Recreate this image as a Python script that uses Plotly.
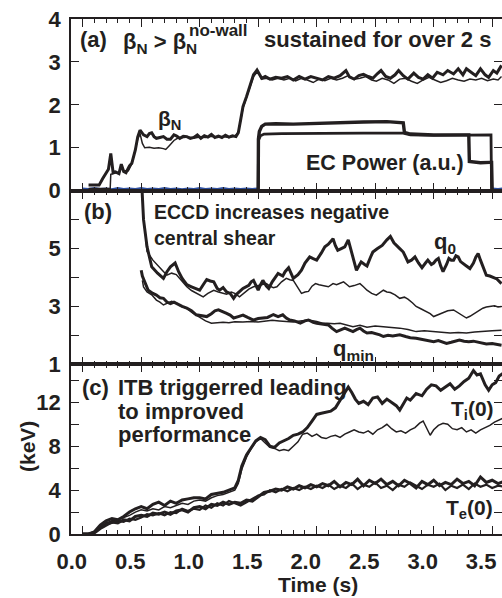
import plotly.graph_objects as go

# ------------------------------------------------------------------ data
# Panel (a): beta_N (two shots), EC power (two traces), blue baseline
BN_THICK = [(0.05,0.13),(0.10,0.13),(0.14,0.13),(0.17,0.28),(0.20,0.40),(0.22,0.50),(0.24,0.87),(0.26,0.42),
            (0.28,0.44),(0.31,0.40),(0.33,0.62),(0.35,0.45),(0.37,0.42),(0.40,0.58),(0.42,0.64),(0.45,0.95),
            (0.47,1.25),(0.49,1.41),(0.52,1.30),(0.55,1.26),(0.57,1.33),(0.59,1.35),(0.61,1.26),(0.63,1.22),
            (0.66,1.24),(0.69,1.26),(0.72,1.20),(0.75,1.20),(0.78,1.30),(0.80,1.28),(0.83,1.22),(0.86,1.27),
            (0.89,1.26),(0.92,1.22),(0.95,1.24),(0.98,1.30),(1.01,1.22),(1.04,1.28),(1.07,1.25),(1.10,1.31),
            (1.13,1.24),(1.16,1.27),(1.19,1.24),(1.22,1.29),(1.25,1.25),(1.28,1.28),(1.31,1.26),(1.33,1.35),
            (1.35,1.65),(1.37,1.96),(1.40,2.19),(1.43,2.45),(1.46,2.70),(1.49,2.81),(1.51,2.72),(1.53,2.62),
            (1.56,2.66),(1.60,2.60),(1.65,2.64),(1.70,2.62),(1.75,2.66),(1.80,2.58),(1.85,2.66),(1.90,2.60),
            (1.95,2.66),(2.00,2.62),(2.05,2.58),(2.10,2.66),(2.15,2.62),(2.20,2.68),(2.25,2.80),(2.28,2.65),
            (2.32,2.60),(2.36,2.68),(2.40,2.71),(2.44,2.66),(2.48,2.62),(2.52,2.73),(2.55,2.80),(2.59,2.66),
            (2.63,2.62),(2.67,2.70),(2.70,2.80),(2.74,2.68),(2.78,2.60),(2.83,2.74),(2.87,2.64),(2.91,2.60),
            (2.95,2.70),(2.99,2.62),(3.03,2.76),(3.08,2.70),(3.12,2.80),(3.17,2.72),(3.21,2.84),(3.25,2.70),
            (3.28,2.84),(3.32,2.76),(3.36,2.68),(3.40,2.84),(3.44,2.70),(3.47,2.64),(3.51,2.80),(3.54,2.74),
            (3.58,2.92)]
BN_THIN = [(0.05,0.05),(0.20,0.05),(0.235,0.05),(0.24,0.38),(0.26,0.40),(0.29,0.42),(0.31,0.40),(0.33,0.55),
           (0.36,0.44),(0.39,0.46),(0.42,0.62),(0.45,0.95),(0.47,1.20),(0.49,1.33),(0.51,1.10),(0.53,1.00),
           (0.57,1.01),(0.61,0.99),(0.65,1.00),(0.69,0.98),(0.71,0.96),(0.74,1.05),(0.78,1.17),(0.81,1.22),
           (0.85,1.24),(0.90,1.25),(0.95,1.22),(1.00,1.25),(1.05,1.24),(1.10,1.27),(1.15,1.24),(1.20,1.26),
           (1.25,1.24),(1.30,1.27),(1.33,1.36),(1.35,1.62),(1.37,1.92),(1.40,2.17),(1.43,2.42),(1.46,2.66),
           (1.49,2.76),(1.51,2.70),(1.53,2.60),(1.57,2.62),(1.62,2.58),(1.67,2.62),(1.72,2.58),(1.77,2.62),
           (1.82,2.56),(1.87,2.62),(1.92,2.58),(1.97,2.52),(2.02,2.60),(2.07,2.56),(2.12,2.62),(2.17,2.58),
           (2.22,2.62),(2.27,2.68),(2.32,2.60),(2.37,2.62),(2.42,2.66),(2.47,2.58),(2.51,2.55),(2.56,2.62),
           (2.61,2.58),(2.66,2.50),(2.71,2.60),(2.76,2.62),(2.81,2.55),(2.86,2.50),(2.91,2.58),(2.96,2.64),
           (3.01,2.58),(3.06,2.52),(3.11,2.56),(3.16,2.62),(3.21,2.58),(3.26,2.55),(3.31,2.60),(3.36,2.58),
           (3.41,2.62),(3.46,2.56),(3.51,2.60),(3.55,2.58),(3.58,2.66)]
EC_A = [(1.50,0.04),(1.502,1.20),(1.51,1.38),(1.53,1.50),(1.56,1.55),(1.65,1.56),(1.80,1.55),(2.00,1.57),
        (2.20,1.58),(2.40,1.60),(2.60,1.61),(2.70,1.60),(2.74,1.58),(2.75,1.36),(2.80,1.32),(3.00,1.30),
        (3.20,1.30),(3.30,1.30),(3.305,0.68),(3.40,0.65),(3.48,0.66),(3.495,0.66),(3.50,0.04)]
EC_B = [(1.50,0.04),(1.503,1.18),(1.52,1.28),(1.55,1.32),(1.70,1.33),(2.00,1.34),(2.40,1.34),(2.74,1.34),
        (2.80,1.30),(3.00,1.29),(3.30,1.30),(3.49,1.30),(3.495,0.04)]
BASE = [(0.00,0.05),(0.05,0.04),(0.10,0.06),(0.15,0.04),(0.20,0.05),(0.25,0.03),(0.30,0.06),(0.35,0.04),
        (0.40,0.05),(0.45,0.04),(0.50,0.06),(0.55,0.04),(0.60,0.05),(0.65,0.04),(0.70,0.06),(0.75,0.04),
        (0.80,0.05),(0.85,0.03),(0.90,0.05),(0.95,0.04),(1.00,0.06),(1.05,0.04),(1.10,0.05),(1.15,0.04),
        (1.20,0.06),(1.25,0.04),(1.30,0.05),(1.35,0.04),(1.40,0.05),(1.45,0.04),(1.50,0.05),(None,None),
        (3.50,0.05),(3.55,0.04),(3.60,0.05)]

# Panel (b): q0 and qmin (two shots)
Q0_THICK = [(0.50,7.6),(0.52,6.0),(0.55,5.06),(0.59,4.37),(0.64,4.15),(0.69,3.97),(0.72,4.2),(0.75,4.37),
            (0.79,4.5),(0.82,4.2),(0.85,3.97),(0.89,3.75),(0.93,3.68),(0.97,3.62),(1.00,3.56),(1.03,3.75),
            (1.06,3.93),(1.09,3.88),(1.12,3.85),(1.15,3.62),(1.17,3.56),(1.20,3.65),(1.23,3.5),(1.26,3.45),
            (1.29,3.28),(1.31,3.4),(1.34,3.51),(1.37,3.62),(1.42,3.73),(1.44,3.85),(1.46,3.9),(1.48,3.7),
            (1.50,3.56),(1.52,3.75),(1.54,3.9),(1.57,3.7),(1.59,3.62),(1.62,3.85),(1.65,4.0),(1.67,4.14),
            (1.71,4.05),(1.73,4.2),(1.76,4.34),(1.78,4.15),(1.80,3.97),(1.84,4.1),(1.87,4.25),(1.90,4.5),
            (1.94,4.71),(1.97,4.65),(2.00,4.6),(2.04,4.85),(2.07,5.06),(2.10,5.15),(2.14,5.34),(2.16,5.1),
            (2.18,4.94),(2.21,5.0),(2.24,5.06),(2.27,5.3),(2.30,4.83),(2.32,4.5),(2.34,4.25),(2.36,4.4),
            (2.38,4.54),(2.41,4.45),(2.43,4.4),(2.46,4.7),(2.48,4.88),(2.52,5.0),(2.56,5.11),(2.60,5.3),
            (2.63,5.42),(2.66,5.2),(2.68,5.11),(2.71,5.0),(2.74,4.88),(2.76,4.7),(2.78,4.54),(2.81,4.6),
            (2.84,4.71),(2.87,4.5),(2.90,4.34),(2.93,4.5),(2.95,4.6),(2.98,4.45),(3.00,4.5),(3.02,4.6),
            (3.04,4.66),(3.06,4.4),(3.08,4.2),(3.11,4.45),(3.13,4.66),(3.15,4.6),(3.17,4.6),(3.19,4.75),
            (3.21,4.71),(3.23,4.55),(3.25,4.5),(3.28,4.4),(3.31,4.31),(3.34,4.5),(3.36,4.7),(3.38,4.83),
            (3.40,4.6),(3.41,4.5),(3.43,4.25),(3.45,4.08),(3.48,4.05),(3.51,4.0),(3.54,3.95),(3.58,3.79)]
Q0_THIN = [(0.54,5.3),(0.55,4.9),(0.60,4.6),(0.64,4.44),(0.68,4.25),(0.72,4.08),(0.76,4.15),(0.80,4.1),
           (0.84,3.9),(0.89,3.68),(0.93,3.55),(0.98,3.45),(1.03,3.33),(1.07,3.45),(1.12,3.56),(1.16,3.5),
           (1.20,3.45),(1.23,3.42),(1.27,3.5),(1.30,3.45),(1.34,3.33),(1.38,3.45),(1.42,3.6),(1.46,3.68),
           (1.50,3.72),(1.54,3.75),(1.57,3.79),(1.60,3.7),(1.63,3.65),(1.66,3.68),(1.70,3.85),(1.74,3.97),
           (1.77,3.92),(1.80,3.9),(1.84,3.65),(1.87,3.45),(1.90,3.5),(1.93,3.52),(1.96,3.7),(1.99,3.79),
           (2.02,3.75),(2.06,3.72),(2.10,3.68),(2.14,3.79),(2.17,3.75),(2.20,3.8),(2.23,3.85),(2.26,3.75),
           (2.28,3.68),(2.32,3.72),(2.37,3.79),(2.40,3.68),(2.43,3.56),(2.47,3.45),(2.51,3.39),(2.54,3.48),
           (2.57,3.56),(2.60,3.5),(2.63,3.48),(2.67,3.4),(2.71,3.28),(2.75,3.32),(2.78,3.25),(2.82,3.12),
           (2.85,3.0),(2.89,2.92),(2.94,2.82),(2.97,2.75),(3.00,2.65),(3.04,2.72),(3.08,2.8),(3.12,2.85),
           (3.17,2.88),(3.20,2.8),(3.24,2.68),(3.28,2.6),(3.31,2.66),(3.35,2.76),(3.39,2.85),(3.42,2.94),
           (3.45,2.98),(3.48,3.0),(3.52,3.02),(3.55,2.98),(3.58,3.0)]
QMIN_THICK = [(0.50,4.25),(0.51,4.05),(0.53,3.85),(0.56,3.56),(0.60,3.45),(0.63,3.39),(0.66,3.3),(0.69,3.28),
              (0.72,3.15),(0.75,3.1),(0.78,3.15),(0.81,3.08),(0.85,3.0),(0.89,2.94),(0.93,2.85),(0.97,2.71),
              (1.01,2.68),(1.06,2.65),(1.10,2.75),(1.13,2.85),(1.16,2.88),(1.20,2.82),(1.23,2.76),(1.26,2.7),
              (1.29,2.6),(1.33,2.65),(1.37,2.7),(1.41,2.62),(1.46,2.53),(1.50,2.58),(1.54,2.6),(1.58,2.62),
              (1.63,2.72),(1.67,2.65),(1.71,2.71),(1.74,2.6),(1.77,2.53),(1.81,2.5),(1.86,2.42),(1.90,2.5),
              (1.93,2.53),(1.97,2.45),(2.00,2.42),(2.05,2.4),(2.10,2.36),(2.13,2.25),(2.17,2.13),(2.21,2.2),
              (2.24,2.25),(2.28,2.18),(2.31,2.13),(2.34,2.2),(2.37,2.25),(2.40,2.15),(2.43,2.08),(2.47,2.1),
              (2.51,2.06),(2.54,2.02),(2.57,1.96),(2.61,2.0),(2.65,1.98),(2.71,2.02),(2.76,1.96),(2.80,1.92),
              (2.85,1.9),(2.90,1.86),(2.95,1.82),(3.00,1.78),(3.04,1.82),(3.08,1.76),(3.11,1.72),(3.15,1.76),
              (3.18,1.8),(3.22,1.84),(3.26,1.8),(3.30,1.78),(3.34,1.8),(3.38,1.76),(3.42,1.72),(3.45,1.7),
              (3.50,1.72),(3.54,1.68),(3.58,1.66)]
QMIN_THIN = [(0.51,3.9),(0.52,3.67),(0.55,3.5),(0.59,3.4),(0.63,3.22),(0.66,3.15),(0.69,3.05),(0.72,3.1),
             (0.76,3.18),(0.80,3.12),(0.84,3.0),(0.89,2.94),(0.93,2.8),(0.97,2.7),(1.01,2.6),(1.05,2.5),
             (1.10,2.42),(1.15,2.44),(1.20,2.45),(1.25,2.44),(1.30,2.47),(1.37,2.46),(1.44,2.48),(1.50,2.46),
             (1.56,2.5),(1.62,2.52),(1.68,2.5),(1.74,2.48),(1.80,2.46),(1.86,2.5),(1.93,2.53),(2.00,2.48),
             (2.05,2.42),(2.09,2.42),(2.15,2.4),(2.20,2.42),(2.26,2.35),(2.31,2.3),(2.37,2.35),(2.43,2.28),
             (2.50,2.32),(2.57,2.3),(2.64,2.26),(2.71,2.25),(2.78,2.2),(2.85,2.13),(2.92,2.16),(3.00,2.13),
             (3.07,2.1),(3.14,2.08),(3.21,2.1),(3.28,2.08),(3.35,2.12),(3.42,2.13),(3.50,2.16),(3.58,2.18)]

# Panel (c): central ion and electron temperatures (keV), two shots
TI_THICK = [(0.00,0.0),(0.05,0.0),(0.10,0.2),(0.15,0.8),(0.20,1.2),(0.25,1.4),(0.30,1.3),(0.35,1.6),(0.40,2.0),
            (0.45,2.3),(0.50,2.5),(0.55,2.3),(0.60,2.7),(0.65,2.9),(0.70,2.6),(0.75,3.0),(0.80,2.8),(0.85,3.1),
            (0.90,3.2),(0.95,3.3),(1.00,3.3),(1.05,3.2),(1.10,3.6),(1.15,3.7),(1.20,3.8),(1.25,4.0),(1.30,4.2),
            (1.33,4.9),(1.36,6.2),(1.40,7.2),(1.44,7.9),(1.48,8.5),(1.52,8.8),(1.56,8.6),(1.60,8.0),(1.64,7.9),
            (1.68,8.3),(1.72,8.5),(1.76,8.7),(1.80,9.0),(1.84,9.1),(1.88,9.3),(1.92,9.7),(1.96,10.3),(2.00,10.9),
            (2.04,11.0),(2.08,11.1),(2.12,11.2),(2.16,11.5),(2.20,12.2),(2.24,12.8),(2.27,13.4),(2.30,12.9),
            (2.33,12.3),(2.36,11.9),(2.40,12.1),(2.44,11.8),(2.48,12.4),(2.52,12.5),(2.56,11.9),(2.60,12.3),
            (2.64,12.0),(2.68,11.7),(2.71,11.3),(2.74,11.9),(2.77,12.4),(2.80,12.2),(2.85,12.8),(2.90,12.6),
            (2.94,13.2),(2.98,13.6),(3.02,13.5),(3.06,13.1),(3.10,13.4),(3.14,13.7),(3.18,13.2),(3.22,13.5),
            (3.26,13.9),(3.30,14.2),(3.34,14.9),(3.37,14.5),(3.40,14.6),(3.44,13.6),(3.47,13.1),(3.50,13.6),
            (3.53,13.8),(3.56,14.4),(3.60,14.7)]
TI_THIN = [(0.00,0.0),(0.05,0.0),(0.10,0.1),(0.15,0.6),(0.20,1.0),(0.25,1.2),(0.30,1.3),(0.35,1.5),(0.40,1.7),
           (0.45,2.0),(0.50,2.2),(0.55,2.1),(0.60,2.3),(0.65,2.2),(0.70,2.5),(0.75,2.4),(0.80,2.6),(0.85,2.8),
           (0.90,2.7),(0.95,3.0),(1.00,3.1),(1.05,3.0),(1.10,3.3),(1.15,3.5),(1.20,3.6),(1.25,3.8),(1.30,4.0),
           (1.33,4.6),(1.36,5.9),(1.40,7.0),(1.44,7.8),(1.48,8.4),(1.52,8.7),(1.56,8.3),(1.60,7.9),(1.64,7.8),
           (1.68,7.6),(1.72,7.7),(1.76,7.6),(1.80,8.0),(1.84,8.4),(1.88,9.1),(1.92,9.2),(1.96,8.9),(2.00,9.1),
           (2.04,8.8),(2.08,8.7),(2.12,8.9),(2.16,9.0),(2.20,8.8),(2.24,9.1),(2.28,9.3),(2.32,9.5),(2.36,9.3),
           (2.40,9.2),(2.44,9.4),(2.48,9.1),(2.52,9.5),(2.56,9.7),(2.60,10.0),(2.64,9.6),(2.68,9.3),(2.72,9.4),
           (2.76,9.2),(2.80,9.5),(2.84,9.7),(2.88,10.1),(2.91,10.3),(2.94,9.6),(2.97,9.0),(3.00,9.5),(3.04,9.9),
           (3.08,10.1),(3.12,10.0),(3.16,9.6),(3.20,9.5),(3.24,9.7),(3.28,9.3),(3.32,9.5),(3.36,9.2),(3.40,9.5),
           (3.44,9.7),(3.48,9.9),(3.52,10.2),(3.56,10.4),(3.60,10.6)]
TE_THICK = [(0.00,0.0),(0.05,0.0),(0.10,0.1),(0.15,0.5),(0.20,0.8),(0.25,1.1),(0.30,1.0),(0.35,1.3),(0.40,1.2),
            (0.45,1.6),(0.50,1.7),(0.55,1.6),(0.60,1.9),(0.65,1.8),(0.70,2.0),(0.75,1.8),(0.80,2.1),(0.85,2.2),
            (0.90,2.0),(0.95,2.4),(1.00,2.5),(1.05,2.3),(1.10,2.7),(1.15,2.6),(1.20,2.9),(1.25,2.7),(1.30,2.9),
            (1.35,2.8),(1.40,3.1),(1.45,3.0),(1.50,3.4),(1.55,3.8),(1.60,3.9),(1.65,4.1),(1.70,4.0),(1.75,4.3),
            (1.80,4.1),(1.85,4.4),(1.90,4.2),(1.95,4.5),(2.00,4.3),(2.05,4.6),(2.10,4.4),(2.15,4.8),(2.20,4.3),
            (2.25,4.7),(2.30,4.5),(2.35,5.0),(2.40,4.4),(2.45,4.9),(2.50,4.6),(2.55,5.0),(2.60,4.5),(2.65,4.8),
            (2.70,4.4),(2.75,4.9),(2.80,4.6),(2.85,4.2),(2.90,4.8),(2.95,4.5),(3.00,4.9),(3.05,4.4),(3.10,4.7),
            (3.15,4.5),(3.20,5.0),(3.25,4.6),(3.30,4.8),(3.35,4.4),(3.40,5.2),(3.45,4.7),(3.50,4.9),(3.55,4.6),
            (3.60,4.8)]
TE_THIN = [(0.00,0.0),(0.05,0.0),(0.10,0.2),(0.15,0.6),(0.20,0.9),(0.25,1.0),(0.30,1.2),(0.35,1.1),(0.40,1.4),
           (0.45,1.3),(0.50,1.5),(0.55,1.8),(0.60,1.7),(0.65,1.9),(0.70,1.7),(0.75,2.0),(0.80,1.9),(0.85,2.3),
           (0.90,2.1),(0.95,2.3),(1.00,2.2),(1.05,2.6),(1.10,2.4),(1.15,2.8),(1.20,2.6),(1.25,3.0),(1.30,2.8),
           (1.35,2.6),(1.40,2.9),(1.45,3.2),(1.50,3.5),(1.55,3.6),(1.60,4.0),(1.65,3.8),(1.70,4.1),(1.75,3.9),
           (1.80,4.2),(1.85,4.0),(1.90,4.3),(1.95,4.1),(2.00,4.4),(2.05,4.2),(2.10,4.5),(2.15,4.1),(2.20,4.4),
           (2.25,4.2),(2.30,4.6),(2.35,4.1),(2.40,4.5),(2.45,4.3),(2.50,4.7),(2.55,4.2),(2.60,4.4),(2.65,4.0),
           (2.70,4.5),(2.75,4.3),(2.80,4.7),(2.85,4.4),(2.90,4.1),(2.95,4.5),(3.00,4.3),(3.05,4.6),(3.10,4.0),
           (3.15,4.4),(3.20,4.2),(3.25,4.5),(3.30,4.1),(3.35,4.6),(3.40,4.3),(3.45,4.5),(3.50,4.2),(3.55,4.4),
           (3.60,4.3)]

X_TICKS = [0.0, 0.5, 1.0, 1.5, 2.0, 2.5, 3.0, 3.5]
X_TICK_TEXT = ["0.0", "0.5", "1.0", "1.5", "2.0", "2.5", "3.0", "3.5"]
YA_TICKS = [0, 1, 2, 3, 4]
YA_TEXT = ["0", "1", "2", "3", "4"]
YB_TICKS = [1, 2, 3, 4, 5, 6, 7]
YB_TEXT = ["1", "", "3", "", "5", "", ""]
YC_TICKS = [0, 2, 4, 6, 8, 10, 12, 14]
YC_TEXT = ["0", "", "4", "", "8", "", "12", ""]

# ------------------------------------------------------------------ layout
W, H = 502, 598
ML, MR, MT, MB = 71, 0, 19, 64
PW, PH = W - ML - MR, H - MT - MB
INK = "#231f20"
BLUE = "#2e4f9e"
FONT = "Liberation Sans, Arial, Helvetica, sans-serif"


def fx(px):
    return (px - ML) / PW


def fy(py):
    return (H - MB - py) / PH


fig = go.Figure()


def add(series, xa, ya, width, color=INK):
    xs, ys = zip(*series)
    fig.add_trace(go.Scatter(x=list(xs), y=list(ys), xaxis=xa, yaxis=ya, mode="lines",
                             line=dict(color=color, width=width), connectgaps=False,
                             showlegend=False, hoverinfo="skip"))


add(BASE, "x", "y", 2.2, BLUE)
add(EC_B, "x", "y", 2.8)
add(EC_A, "x", "y", 3.4)
add(BN_THIN, "x", "y", 1.5)
add(BN_THICK, "x", "y", 3.0)
add(Q0_THIN, "x2", "y2", 1.5)
add(QMIN_THIN, "x2", "y2", 1.5)
add(Q0_THICK, "x2", "y2", 3.0)
add(QMIN_THICK, "x2", "y2", 3.0)
add(TI_THIN, "x3", "y3", 1.5)
add(TE_THIN, "x3", "y3", 2.2)
add(TE_THICK, "x3", "y3", 3.0)
add(TI_THICK, "x3", "y3", 3.0)

tickfont = dict(family=FONT, size=22, color=INK, weight="bold")
xcommon = dict(range=[-0.1, 3.584], tickvals=X_TICKS, ticktext=X_TICK_TEXT, ticks="inside",
               ticklen=8, tickwidth=1.3, tickcolor=INK, showline=True, linecolor=INK, linewidth=1.6,
               mirror="ticks", showgrid=False, zeroline=False, tickfont=tickfont,
               minor=dict(dtick=0.1, tick0=0, ticks="inside", ticklen=4, tickcolor=INK, tickwidth=1.1))
ycommon = dict(ticks="inside", ticklen=8, tickwidth=1.3, tickcolor=INK, showline=True, linecolor=INK,
               linewidth=1.6, mirror="ticks", showgrid=False, zeroline=False, tickfont=tickfont,
               ticklabelstandoff=4)

yb_top = fy(190.7)
yc_top = fy(364.3)

fig.update_layout(
    width=W, height=H, margin=dict(l=ML, r=MR, t=MT, b=MB, autoexpand=False),
    paper_bgcolor="white", plot_bgcolor="white",
    xaxis=dict(xcommon, anchor="y", domain=[0, 1], showticklabels=False),
    xaxis2=dict(xcommon, anchor="y2", domain=[0, 1], matches="x", showticklabels=False),
    xaxis3=dict(xcommon, anchor="y3", domain=[0, 1], matches="x", showticklabels=True,
                ticklabelshift=-11, ticklabelstandoff=7),
    yaxis=dict(ycommon, anchor="x", domain=[yb_top, 1], range=[0, 4], tickvals=YA_TICKS, ticktext=YA_TEXT),
    yaxis2=dict(ycommon, anchor="x2", domain=[yc_top, yb_top], range=[1, 7], tickvals=YB_TICKS,
                ticktext=YB_TEXT),
    yaxis3=dict(ycommon, anchor="x3", domain=[0, yc_top], range=[0, 15.47], tickvals=YC_TICKS,
                ticktext=YC_TEXT),
)


def note(text, px, py, size=21, xanchor="left", angle=0):
    fig.add_annotation(text=text, x=fx(px), y=fy(py), xref="paper", yref="paper", showarrow=False,
                       xanchor=xanchor, yanchor="middle", textangle=angle,
                       font=dict(family=FONT, size=size, color=INK, weight="bold"))


note("(a)", 78, 40, size=22)
note("β<sub>N</sub> &gt; β<sub>N</sub>", 121, 43, size=22)
note("no-wall", 187, 31, size=17)
note("sustained for over 2 s", 262, 40, size=22)
note("β<sub>N</sub>", 156, 120)
note("EC Power (a.u.)", 304, 163, size=21.5)
note("(b)", 82, 211, size=22)
note("ECCD increases negative", 152, 212, size=19.5)
note("central shear", 152, 238, size=19.5)
note("q<sub>0</sub>", 432, 243, size=22)
note("q<sub>min</sub>", 331, 350, size=22)
note("(c)", 80, 387, size=22)
note("ITB triggerred leading", 116, 387, size=22)
note("to improved", 116, 411, size=22)
note("performance", 116, 434, size=22)
note("T<sub>i</sub>(0)", 449, 410)
note("T<sub>e</sub>(0)", 444, 509)
note("(keV)", 27, 447, angle=-90, xanchor="center")
note("Time (s)", 318, 584, xanchor="center")

fig.write_html("out.html")
